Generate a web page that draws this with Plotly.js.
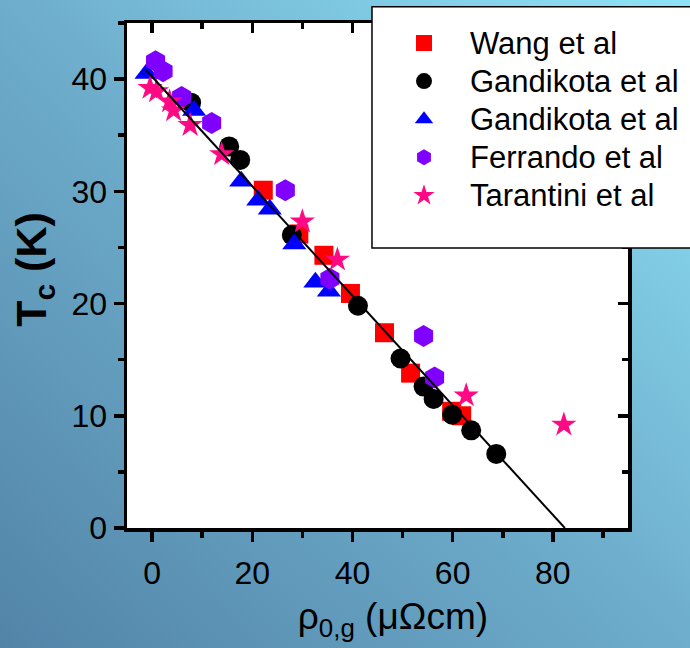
<!DOCTYPE html>
<html><head><meta charset="utf-8">
<script src="https://cdn.plot.ly/plotly-3.0.1.min.js"></script>
<style>
html,body{margin:0;padding:0;}
#chart{width:690px;height:648px;background:linear-gradient(to top right,#5284a8 0%,#6eadcc 50%,#8fe3f7 100%);}
</style></head><body><div id="chart"></div>
<script>
// Data
const wangX = [22.2, 29.3, 34.3, 39.6, 46.4, 51.6, 59.8, 61.8];
const wangY = [30.1, 26.2, 24.3, 20.9, 17.4, 13.8, 10.4, 10.0];

const gandCircX = [7.8, 15.4, 17.6, 27.9, 41.1, 49.6, 54.2, 56.2, 59.9, 63.7, 68.7];
const gandCircY = [37.9, 34.0, 32.8, 26.1, 19.8, 15.1, 12.6, 11.5, 10.1, 8.7, 6.6];

const gandTriX = [-1.1, 8.4, 17.8, 21.2, 23.5, 28.4, 32.6, 35.3];
const gandTriY = [40.5, 37.2, 30.9, 29.2, 28.4, 25.3, 21.9, 21.1];

const ferrX = [0.7, 2.2, 5.9, 11.9, 26.6, 35.5, 54.2, 56.4];
const ferrY = [41.6, 40.7, 38.4, 36.1, 30.1, 22.2, 17.1, 13.4];

const taraX = [-0.4, 0.9, 3.5, 4.3, 7.6, 13.9, 30.0, 37.0, 62.7, 82.2];
const taraY = [39.2, 38.9, 38.0, 37.2, 35.9, 33.3, 27.3, 23.9, 11.8, 9.2];

const fitX = [-1.4, 82.4];
const fitY = [40.9, 0];

const seriesNames = ['Wang et al', 'Gandikota et al', 'Gandikota et al', 'Ferrando et al', 'Tarantini et al'];
const xTitle = '&nbsp;&nbsp;&nbsp;ρ<sub>0,g</sub> (μΩcm)';
const yTitle = '&nbsp;T<sub>c</sub> (K)';

const FONT = '"Liberation Sans", Arial, sans-serif';
const legName = n => '<span style="font-size:31px">' + n + '</span>';

const traces = [
  {type:'scatter', mode:'markers', name:legName(seriesNames[0]), x:wangX, y:wangY,
   marker:{symbol:'square', size:19, color:'#ff0000'}},
  {type:'scatter', mode:'markers', name:legName(seriesNames[1]), x:gandCircX, y:gandCircY,
   marker:{symbol:'circle', size:20, color:'#000000'}},
  {type:'scatter', mode:'markers', name:legName(seriesNames[2]), x:gandTriX, y:gandTriY,
   marker:{symbol:'triangle-up', size:21, color:'#0000ff'}},
  {type:'scatter', mode:'markers', name:legName(seriesNames[3]), x:ferrX, y:ferrY,
   marker:{symbol:'hexagon', size:22, color:'#8000ff'}},
  {type:'scatter', mode:'markers', name:legName(seriesNames[4]), x:taraX, y:taraY,
   marker:{symbol:'star', size:19, color:'#ff0a84'}},
  {type:'scatter', mode:'lines', x:fitX, y:fitY, showlegend:false,
   line:{color:'#000000', width:2}},
  {type:'scatter', mode:'markers', x:[], y:[], xaxis:'x2', yaxis:'y', showlegend:false, hoverinfo:'skip'},
  {type:'scatter', mode:'markers', x:[], y:[], xaxis:'x', yaxis:'y2', showlegend:false, hoverinfo:'skip'}
];

const common = {showgrid:false, zeroline:false, showline:true, linewidth:3.5, linecolor:'#000',
  tickwidth:3.5, tickcolor:'#000', ticklen:10, automargin:false};

const layout = {
  width:690, height:648,
  margin:{l:127, r:62, t:23, b:120, autoexpand:false},
  paper_bgcolor:'rgba(0,0,0,0)',
  plot_bgcolor:'#ffffff',
  showlegend:true,
  xaxis: Object.assign({}, common, {
    range:[-5,95], tick0:0, dtick:20, ticks:'outside', ticklabelstandoff:4,
    minor:{tick0:0, dtick:10, ticks:'outside', ticklen:6, tickwidth:3.5, tickcolor:'#000', showgrid:false},
    tickfont:{family:FONT, size:32, color:'#000'},
    title:{text:xTitle, font:{family:FONT, size:37, color:'#000'}, standoff:14}
  }),
  yaxis: Object.assign({}, common, {
    range:[0,45], tick0:0, dtick:10, ticks:'outside',
    minor:{tick0:0, dtick:5, ticks:'outside', ticklen:6, tickwidth:3.5, tickcolor:'#000', showgrid:false},
    tickfont:{family:FONT, size:32, color:'#000'},
    title:{text:yTitle, font:{family:FONT, size:43, color:'#000', weight:'bold'}, standoff:12}
  }),
  xaxis2: Object.assign({}, common, {
    overlaying:'x', side:'top', anchor:'y', range:[-5,95], tick0:0, dtick:20, ticks:'inside',
    minor:{tick0:0, dtick:10, ticks:'inside', ticklen:6, tickwidth:3.5, tickcolor:'#000', showgrid:false},
    showticklabels:false
  }),
  yaxis2: Object.assign({}, common, {
    overlaying:'y', side:'right', anchor:'x', range:[0,45], tick0:0, dtick:10, ticks:'inside',
    minor:{tick0:0, dtick:5, ticks:'inside', ticklen:6, tickwidth:3.5, tickcolor:'#000', showgrid:false},
    showticklabels:false
  }),
  legend:{
    x:0.501, xanchor:'left', y:1.008, yanchor:'top',
    bgcolor:'rgba(0,0,0,0)', borderwidth:0,
    itemwidth:82,
    font:{family:FONT, size:27, color:'#000'}
  },
  shapes:[
    {type:'rect', xref:'paper', yref:'paper', x0:0.489, x1:1.3, y0:0.5545, y1:1.032,
     fillcolor:'#ffffff', line:{color:'#000', width:1.5}, layer:'above'}
  ]
};

Plotly.newPlot('chart', traces, layout, {displayModeBar:false, staticPlot:true});
</script>
</body></html>
